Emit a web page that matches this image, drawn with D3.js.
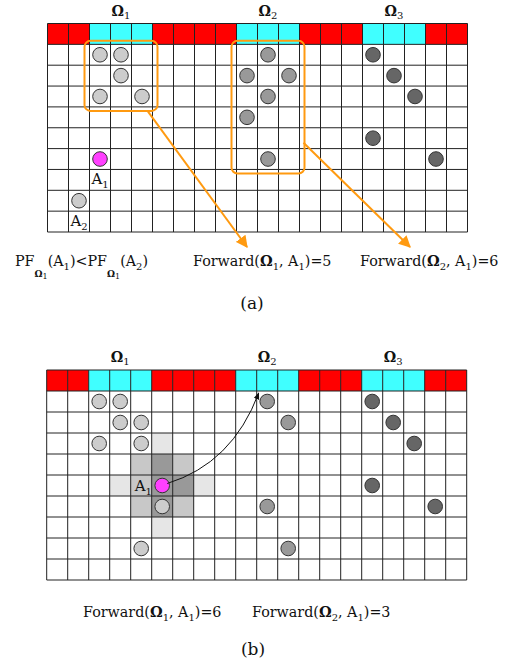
<!DOCTYPE html>
<html>
<head>
<meta charset="utf-8">
<script src="https://cdn.jsdelivr.net/npm/d3@7"></script>
<style>
  body { margin: 0; background: #fff; }
  text { font-family: "DejaVu Serif", serif; fill: #111; }
</style>
</head>
<body>
<div id="chart"></div>
<script>
// Data
const columns = [0,1,2,3,4,5,6,7,8,9,10,11,12,13,14,15,16,17,18,19]
const rows = [0,1,2,3,4,5,6,7,8]
const headerColors = ['red','red','cyan','cyan','cyan','red','red','red','red',
  'cyan','cyan','cyan','red','red','red','cyan','cyan','cyan','red','red']
const regions = [
  { sub: '1', from: 2, to: 4 },
  { sub: '2', from: 9, to: 11 },
  { sub: '3', from: 15, to: 17 },
]
// [col, row] of points
const omega1PointsA = [[2,0],[3,0],[3,1],[2,2],[4,2],[1,7]]
const omega2PointsA = [[10,0],[9,1],[11,1],[10,2],[9,3],[10,5]]
const omega3Points = [[15,0],[16,1],[17,2],[15,4],[18,5]]
const agentA = [2,5]
const agentA2 = [1,7]
const omega1PointsB = [[2,0],[3,0],[3,1],[4,1],[2,2],[4,2],[5,5],[4,7]]
const omega2PointsB = [[10,0],[11,1],[10,5],[11,7]]
const agentB = [5,4]
// [col, row, level] 1 = light, 2 = mid, 3 = dark
const viewCells = [
  [5,2,1],
  [4,3,2],[5,3,3],[6,3,2],
  [3,4,1],[4,4,2],[5,4,3],[6,4,3],[7,4,1],
  [4,5,2],[5,5,3],[6,5,2],
  [5,6,1],
]
// boxes in panel (a): [colFrom, colTo, rowFrom, rowTo]
const boxesA = [[2,4,0,2],[9,11,0,5]]
const forwardA = [{ sub: '1', value: 5 }, { sub: '2', value: 6 }]
const forwardB = [{ sub: '1', value: 6 }, { sub: '2', value: 3 }]

const colors = {
  red: '#ff0000', cyan: '#40ffff', omega1: '#cccccc', omega2: '#999999',
  omega3: '#666666', agent: '#ff40ff', orange: '#ff9a10',
  shade: { 1: '#e6e6e6', 2: '#c8c8c8', 3: '#999999' },
}

const dimensions = { width: 508, height: 666 }

const svg = d3.select('#chart')
  .append('svg')
  .attr('width', dimensions.width)
  .attr('height', dimensions.height)

const defs = svg.append('defs')
defs.append('marker')
  .attr('id', 'arrowOrange')
  .attr('viewBox', '0 0 10 10')
  .attr('refX', 9).attr('refY', 5)
  .attr('markerWidth', 6).attr('markerHeight', 6)
  .attr('markerUnits', 'strokeWidth')
  .attr('orient', 'auto')
  .append('path').attr('d', 'M0,0L10,5L0,10Z').attr('fill', colors.orange)
defs.append('marker')
  .attr('id', 'arrowBlack')
  .attr('viewBox', '0 0 10 10')
  .attr('refX', 9).attr('refY', 5)
  .attr('markerWidth', 7).attr('markerHeight', 7)
  .attr('markerUnits', 'strokeWidth')
  .attr('orient', 'auto')
  .append('path').attr('d', 'M0,1L10,5L0,9Z').attr('fill', '#111')

function drawPanel(opts) {
  const x = d3.scaleBand().domain(columns).range([opts.left, opts.left + 420])
  const yAll = d3.scaleBand().domain(['h', ...rows]).range([opts.top, opts.top + opts.rowH * 10])
  const y = r => yAll(r)
  const bw = x.bandwidth()
  const bh = yAll.bandwidth()
  const g = svg.append('g')

  // header row
  g.selectAll('rect.head')
    .data(headerColors)
    .join('rect')
    .attr('x', (d, i) => x(columns[i]))
    .attr('y', yAll('h'))
    .attr('width', bw).attr('height', bh)
    .attr('fill', d => colors[d])

  // shading
  g.selectAll('rect.shade')
    .data(opts.shade || [])
    .join('rect')
    .attr('x', d => x(d[0])).attr('y', d => y(d[1]))
    .attr('width', bw).attr('height', bh)
    .attr('fill', d => colors.shade[d[2]])

  // grid lines
  g.selectAll('line.v')
    .data([...columns, 20])
    .join('line')
    .attr('x1', d => opts.left + d * bw).attr('x2', d => opts.left + d * bw)
    .attr('y1', opts.top).attr('y2', opts.top + opts.rowH * 10)
    .attr('stroke', '#222').attr('stroke-width', 1)
  g.selectAll('line.h')
    .data(d3.range(11))
    .join('line')
    .attr('x1', opts.left).attr('x2', opts.left + 420)
    .attr('y1', d => opts.top + d * bh).attr('y2', d => opts.top + d * bh)
    .attr('stroke', '#222').attr('stroke-width', 1)

  // region labels
  const lab = g.selectAll('text.region')
    .data(regions)
    .join('text')
    .attr('x', d => (x(d.from) + x(d.to) + bw) / 2)
    .attr('y', opts.top - 8)
    .attr('text-anchor', 'middle')
    .attr('font-size', 14)
  lab.append('tspan').attr('font-weight', 'bold').text('Ω')
  lab.append('tspan').attr('font-size', 10).attr('dy', 3).text(d => d.sub)

  const circles = [
    ...opts.p1.map(d => [...d, colors.omega1]),
    ...opts.p2.map(d => [...d, colors.omega2]),
    ...omega3Points.map(d => [...d, colors.omega3]),
    [...opts.agent, colors.agent],
  ]
  g.selectAll('circle')
    .data(circles)
    .join('circle')
    .attr('cx', d => x(d[0]) + bw / 2)
    .attr('cy', d => y(d[1]) + bh / 2)
    .attr('r', 7.3)
    .attr('fill', d => d[2])
    .attr('stroke', '#333')
    .attr('stroke-width', 1)

  return { x, y, bw, bh, g }
}

function agentLabel(g, px, py, sub) {
  const t = g.append('text').attr('x', px).attr('y', py).attr('font-size', 15)
  t.append('tspan').text('A')
  t.append('tspan').attr('font-size', 10).attr('dy', 4).text(sub)
}

function forwardText(px, py, d) {
  const t = svg.append('text').attr('x', px).attr('y', py).attr('font-size', 14.3)
  t.append('tspan').text('Forward(')
  t.append('tspan').attr('font-weight', 'bold').text('Ω')
  t.append('tspan').attr('font-size', 10).attr('dy', 4).text(d.sub)
  t.append('tspan').attr('dy', -4).text(', A')
  t.append('tspan').attr('font-size', 10).attr('dy', 4).text('1')
  t.append('tspan').attr('dy', -4).text(`)=${d.value}`)
}

// Panel (a)
const a = drawPanel({ left: 47.5, top: 23.5, rowH: 20.85,
  p1: omega1PointsA, p2: omega2PointsA, agent: agentA })

agentLabel(a.g, a.x(agentA[0]) + 2, a.y(agentA[1] + 1) + 15, '1')
agentLabel(a.g, a.x(agentA2[0]) + 2, a.y(agentA2[1] + 1) + 15, '2')

a.g.selectAll('rect.box')
  .data(boxesA)
  .join('rect')
  .attr('x', d => a.x(d[0]) - 5)
  .attr('y', d => a.y(d[2]) - 3.5)
  .attr('width', d => a.x(d[1]) + a.bw - a.x(d[0]) + 10)
  .attr('height', d => a.y(d[3]) + a.bh - a.y(d[2]) + 7.5)
  .attr('rx', 6)
  .attr('fill', 'none')
  .attr('stroke', colors.orange)
  .attr('stroke-width', 2)

const arrowStarts = [
  [a.x(5) - 5, a.y(3) + 4],
  [a.x(12) + 4, a.y(4) + 15],
]
const arrowEnds = [[247, 247], [410, 247]]
a.g.selectAll('line.arrow')
  .data(arrowStarts)
  .join('line')
  .attr('x1', d => d[0]).attr('y1', d => d[1])
  .attr('x2', (d, i) => arrowEnds[i][0]).attr('y2', (d, i) => arrowEnds[i][1])
  .attr('stroke', colors.orange)
  .attr('stroke-width', 2)
  .attr('marker-end', 'url(#arrowOrange)')

// PF text
const pf = svg.append('text').attr('x', 15).attr('y', 266).attr('font-size', 14.3)
;['1', '2'].forEach((s, i) => {
  pf.append('tspan').text(i ? '<PF' : 'PF')
  pf.append('tspan').attr('font-size', 9).attr('font-weight', 'bold').attr('dy', 11).text('Ω')
  pf.append('tspan').attr('font-size', 8).attr('dy', 2).text('1')
  pf.append('tspan').attr('dy', -13).text('(A')
  pf.append('tspan').attr('font-size', 10).attr('dy', 4).text(s)
  pf.append('tspan').attr('dy', -4).text(')')
})

forwardText(193, 266, forwardA[0])
forwardText(360, 266, forwardA[1])

svg.append('text').attr('x', 252).attr('y', 309)
  .attr('text-anchor', 'middle').attr('font-size', 17).text('(a)')

// Panel (b)
const b = drawPanel({ left: 46.7, top: 370, rowH: 21,
  p1: omega1PointsB, p2: omega2PointsB, agent: agentB, shade: viewCells })

agentLabel(b.g, b.x(agentB[0] - 1) + 4, b.y(agentB[1]) + 16, '1')

const ax = b.x(agentB[0]) + b.bw / 2
const ay = b.y(agentB[1]) + b.bh / 2
const tx = b.x(10) + 2
const ty = b.y(0) + 2
b.g.append('path')
  .attr('d', `M${ax + 5},${ay - 2}Q${ax + 70},${ay - 22} ${tx},${ty}`)
  .attr('fill', 'none')
  .attr('stroke', '#111')
  .attr('stroke-width', 1)
  .attr('marker-end', 'url(#arrowBlack)')

forwardText(83, 617, forwardB[0])
forwardText(252, 617, forwardB[1])

svg.append('text').attr('x', 253).attr('y', 655)
  .attr('text-anchor', 'middle').attr('font-size', 17).text('(b)')
</script>
</body>
</html>
